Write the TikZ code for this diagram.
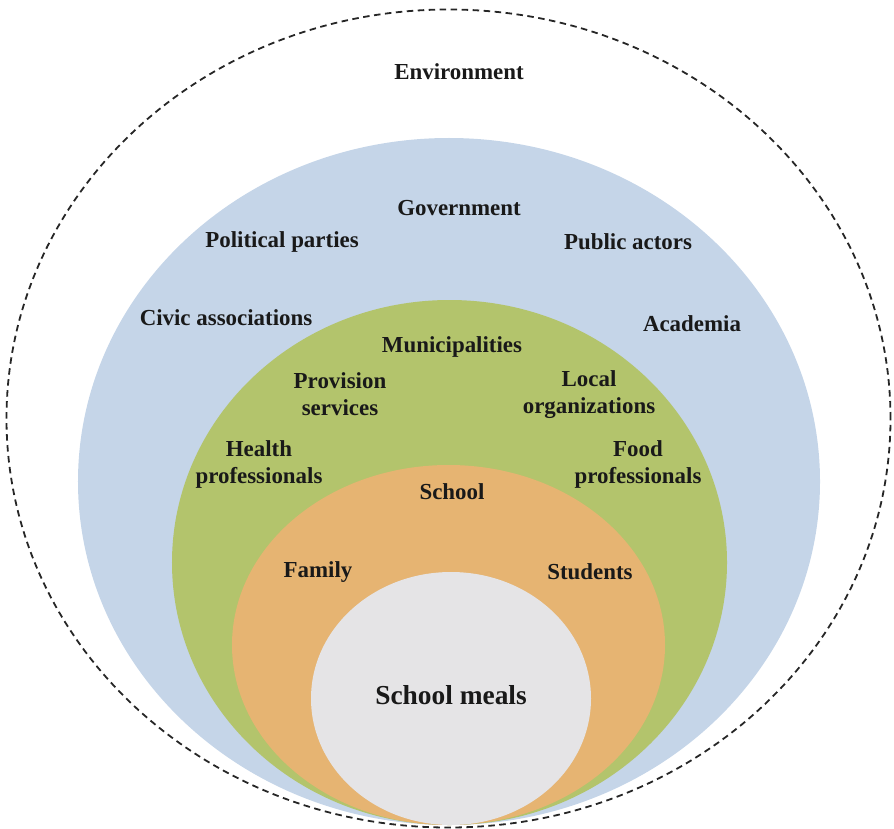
\documentclass[tikz,border=0pt]{standalone}
\usepackage{fontspec}
\setmainfont{Liberation Serif}
\definecolor{envblue}{HTML}{C5D5E8}
\definecolor{localgreen}{HTML}{B3C46C}
\definecolor{schoolorange}{HTML}{E6B472}
\definecolor{mealgrey}{HTML}{E5E4E6}
\tikzset{
  lbl/.style={font=\bfseries\fontsize{23}{27}\selectfont, align=center, inner sep=0pt, text=black!90},
  biglbl/.style={font=\bfseries\fontsize{27.5}{32}\selectfont, align=center, inner sep=0pt, text=black!90},
  envline/.style={draw=black!85, line width=1.8bp, dash pattern=on 6.5bp off 4.5bp}
}
\begin{document}
\begin{tikzpicture}[x=1bp, y=-1bp]
  \useasboundingbox (0,0) rectangle (894,829);
  % nested spheres of influence
  \fill[envblue] (449,481.5) ellipse [x radius=371bp, y radius=343.5bp];
  \fill[localgreen] (449.5,562.5) ellipse [x radius=277.5bp, y radius=262.5bp];
  \fill[schoolorange] (448.5,645) ellipse [x radius=216.5bp, y radius=180bp];
  \fill[mealgrey] (451,698.5) ellipse [x radius=140bp, y radius=126.5bp];
  % outer environment boundary
  \draw[envline] (448.5,418.5) ellipse [x radius=442bp, y radius=409bp];

  % labels
  \node[lbl] (env) at (459,72) {Environment};
  \node[lbl] (gov) at (459,208) {Government};
  \node[lbl] (pol) at (282,242) {Political parties};
  \node[lbl] (pub) at (628,242) {Public actors};
  \node[lbl] (civ) at (226,318) {Civic associations};
  \node[lbl] (aca) at (692,324) {Academia};
  \node[lbl] (mun) at (452,347) {Municipalities};
  \node[lbl] (pro) at (340,394.5) {Provision\\services};
  \node[lbl] (loc) at (589,394.5) {Local\\organizations};
  \node[lbl] (hea) at (259,464.5) {Health\\professionals};
  \node[lbl] (foo) at (638,464.5) {Food\\professionals};
  \node[lbl] (sch) at (452,492) {School};
  \node[lbl] (fam) at (318,572) {Family};
  \node[lbl] (stu) at (590,572) {Students};
  \node[biglbl] (meal) at (451,695) {School meals};
\end{tikzpicture}
\end{document}
